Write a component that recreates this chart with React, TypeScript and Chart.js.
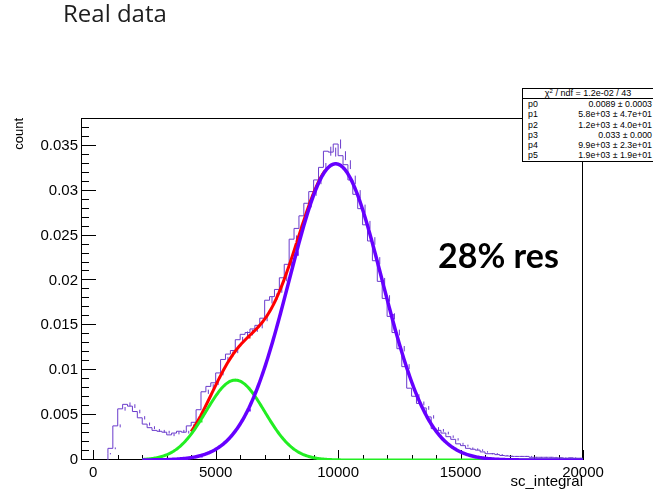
import { useEffect, useRef } from 'react';
import { Chart, registerables } from 'chart.js';

Chart.register(...registerables);

// Histogram of sc_integral: 100 bins of width 200 starting at 0 (normalised counts)
const BIN_START = 0;
const BIN_WIDTH = 200;
const COUNTS = [
  0, 0, 0, 0.0007, 0.0013, 0.0038, 0.0057, 0.0062, 0.006, 0.0054,
  0.0047, 0.004, 0.0036, 0.0033, 0.0032, 0.0031, 0.0028, 0.003, 0.0032, 0.0031,
  0.0038, 0.0042, 0.0056, 0.0076, 0.0082, 0.0086, 0.0097, 0.0112, 0.0118, 0.0122,
  0.0134, 0.014, 0.0142, 0.0146, 0.015, 0.0158, 0.0178, 0.0182, 0.019, 0.0203,
  0.0218, 0.0246, 0.0258, 0.0272, 0.0286, 0.0299, 0.0312, 0.0326, 0.0344, 0.0343,
  0.0352, 0.0339, 0.0329, 0.0312, 0.0296, 0.028, 0.0262, 0.0244, 0.0222, 0.0199,
  0.018, 0.016, 0.0142, 0.0124, 0.0104, 0.008, 0.0071, 0.0063, 0.0058, 0.0048,
  0.0035, 0.0033, 0.003, 0.0026, 0.0023, 0.0018, 0.0016, 0.0013, 0.0012, 0.0011,
  0.0009, 0.0007, 0.0007, 0.0006, 0.0005, 0.00045, 0.0004, 0.0004, 0.0004, 0.0004,
  0.0003, 0.0003, 0.0003, 0.0003, 0.0003, 0.00025, 0.00025, 0.0002, 0.00025, 0.0002,
];
// statistical error per bin ~ ERR_SCALE * sqrt(count)
const ERR_SCALE = 0.0027;

// Double-gaussian fit: p0..p2 first peak, p3..p5 main peak
const PARAM_NAMES = ['p0', 'p1', 'p2', 'p3', 'p4', 'p5'];
const PARAM_VALUES = [0.0089, 5800, 1200, 0.033, 9900, 1900];
const PARAM_TEXT = [
  '0.0089 ± 0.0003',
  '5.8e+03 ± 4.7e+01',
  '1.2e+03 ± 4.0e+01',
  '0.033 ± 0.000',
  '9.9e+03 ± 2.3e+01',
  '1.9e+03 ± 1.9e+01',
];
const CHI2_NDF = '1.2e-02 / 43';
const SUM_RANGE = [4000, 9500];
const PEAK_RANGE = [2000, 20000];

const X_RANGE = [-500, 20000];
const Y_RANGE = [0, 0.0381];
const X_TICKS = [0, 5000, 10000, 15000, 20000];
const Y_TICKS = [0, 0.005, 0.01, 0.015, 0.02, 0.025, 0.03, 0.035];

const HIST_COLOR = '#6a3bcc';
const SUM_COLOR = '#ff0000';
const PEAK1_COLOR = '#22ee22';
const PEAK2_COLOR = '#6600ff';

const gaus = (x: number, a: number, m: number, s: number) =>
  a * Math.exp(-0.5 * ((x - m) / s) ** 2);

function sample(range: number[], f: (x: number) => number) {
  const pts: { x: number; y: number }[] = [];
  for (let x = range[0]; x <= range[1]; x += 40) pts.push({ x, y: f(x) });
  return pts;
}

// ROOT-style frame with tick marks drawn inward
const frameTicks = {
  id: 'frameTicks',
  beforeDatasetsDraw(chart: any) {
    const { ctx, chartArea: a, scales } = chart;
    const xs = scales.x;
    const ys = scales.y;
    ctx.save();
    ctx.strokeStyle = '#000';
    ctx.lineWidth = 1;
    ctx.strokeRect(a.left + 0.5, a.top + 0.5, a.right - a.left - 1, a.bottom - a.top - 1);
    ctx.beginPath();
    for (let i = 0; i <= 20; i++) {
      const v = i * 1000;
      const px = Math.round(xs.getPixelForValue(v)) + 0.5;
      const len = i % 5 === 0 ? 10 : 5;
      ctx.moveTo(px, a.bottom);
      ctx.lineTo(px, a.bottom - len);
    }
    for (let i = 0; i <= 38; i++) {
      const v = i * 0.001;
      const py = Math.round(ys.getPixelForValue(v)) - 0.5;
      const len = i % 5 === 0 ? 15 : 8;
      ctx.moveTo(a.left, py);
      ctx.lineTo(a.left + len, py);
    }
    ctx.stroke();
    ctx.restore();
  },
};

export default function App() {
  const canvasRef = useRef<HTMLCanvasElement>(null);

  useEffect(() => {
    const canvas = canvasRef.current;
    if (!canvas) return;

    const firstBin = COUNTS.findIndex((c) => c > 0);
    const hist: { x: number; y: number }[] = [
      { x: BIN_START + firstBin * BIN_WIDTH, y: 0 },
    ];
    const errs: { x: number; y: number | null }[] = [];
    COUNTS.forEach((c, i) => {
      if (i < firstBin) return;
      const lo = BIN_START + i * BIN_WIDTH;
      hist.push({ x: lo, y: c });
      if (c > 0) {
        const e = ERR_SCALE * Math.sqrt(c);
        const mid = lo + BIN_WIDTH / 2;
        errs.push({ x: mid, y: c - e }, { x: mid, y: c + e }, { x: mid, y: null });
      }
    });
    hist.push({
      x: BIN_START + COUNTS.length * BIN_WIDTH,
      y: COUNTS[COUNTS.length - 1],
    });

    const [a1, m1, s1, a2, m2, s2] = PARAM_VALUES;
    const peak1 = (x: number) => gaus(x, a1, m1, s1);
    const peak2 = (x: number) => gaus(x, a2, m2, s2);

    const tickFont = { family: "'Liberation Sans', Arial, sans-serif", size: 15 };

    const chart = new Chart(canvas, {
      type: 'line',
      data: {
        datasets: [
          {
            data: hist,
            stepped: 'after',
            borderColor: HIST_COLOR,
            borderWidth: 1,
            pointRadius: 0,
            order: 5,
          },
          {
            data: errs as any,
            borderColor: HIST_COLOR,
            borderWidth: 1,
            pointRadius: 0,
            spanGaps: false,
            order: 4,
          },
          {
            data: sample(SUM_RANGE, (x) => peak1(x) + peak2(x)),
            borderColor: SUM_COLOR,
            borderWidth: 3,
            pointRadius: 0,
            order: 3,
          },
          {
            data: sample(PEAK_RANGE, peak1),
            borderColor: PEAK1_COLOR,
            borderWidth: 3,
            pointRadius: 0,
            order: 2,
          },
          {
            data: sample(PEAK_RANGE, peak2),
            borderColor: PEAK2_COLOR,
            borderWidth: 3.5,
            pointRadius: 0,
            order: 1,
          },
        ],
      },
      options: {
        responsive: false,
        animation: false,
        events: [],
        layout: { padding: { top: 118, right: 70, left: 0, bottom: 0 } },
        plugins: {
          legend: { display: false },
          tooltip: { enabled: false },
          title: { display: false },
        },
        scales: {
          x: {
            type: 'linear',
            min: X_RANGE[0],
            max: X_RANGE[1],
            afterBuildTicks: (s: any) => {
              s.ticks = X_TICKS.map((value) => ({ value }));
            },
            afterFit: (s: any) => {
              s.height = 35;
            },
            grid: { display: false, drawTicks: false },
            border: { display: false },
            ticks: {
              padding: 4,
              color: '#000',
              font: tickFont,
              maxRotation: 0,
              autoSkip: false,
              callback: (v: any) => String(v),
            },
            title: {
              display: true,
              text: 'sc_integral',
              align: 'end',
              color: '#000',
              font: { family: "'Liberation Sans', Arial, sans-serif", size: 15 },
              padding: { top: 0, bottom: 4 },
            },
          },
          y: {
            type: 'linear',
            min: Y_RANGE[0],
            max: Y_RANGE[1],
            afterBuildTicks: (s: any) => {
              s.ticks = Y_TICKS.map((value) => ({ value }));
            },
            afterFit: (s: any) => {
              s.width = 81;
            },
            grid: { display: false, drawTicks: false },
            border: { display: false },
            ticks: {
              padding: 3,
              color: '#000',
              font: tickFont,
              autoSkip: false,
              callback: (v: any) => String(parseFloat(Number(v).toFixed(3))),
            },
            title: {
              display: true,
              text: 'count',
              align: 'end',
              color: '#000',
              font: { family: "'Liberation Sans', Arial, sans-serif", size: 13 },
              padding: { top: 12, bottom: 0 },
            },
          },
        },
      },
      plugins: [frameTicks],
    });

    return () => chart.destroy();
  }, []);

  return (
    <div
      style={{
        position: 'fixed',
        left: 0,
        top: 0,
        width: 653,
        height: 495,
        overflow: 'hidden',
        background: '#fff',
      }}
    >
      <canvas
        ref={canvasRef}
        width={653}
        height={495}
        style={{ position: 'absolute', left: 0, top: 0, width: 653, height: 495 }}
      />
      <div
        style={{
          position: 'absolute',
          left: 63,
          top: 1,
          fontFamily: "'Open Sans', sans-serif",
          fontSize: 24,
          lineHeight: '24px',
          color: '#1e1e1e',
          whiteSpace: 'nowrap',
        }}
      >
        Real data
      </div>
      <div
        style={{
          position: 'absolute',
          left: 438,
          top: 238,
          fontFamily: "Lato, 'Open Sans', sans-serif",
          fontWeight: 700,
          fontSize: 34,
          lineHeight: '34px',
          color: '#000',
          whiteSpace: 'nowrap',
        }}
      >
        28% res
      </div>
      <div
        style={{
          position: 'absolute',
          left: 522,
          top: 88,
          width: 132,
          boxSizing: 'border-box',
          border: '1px solid #000',
          background: '#fff',
          fontFamily: "'Liberation Sans', Arial, sans-serif",
          fontSize: 8.8,
          color: '#000',
        }}
      >
        <div
          style={{
            height: 9,
            lineHeight: '9px',
            fontSize: 9,
            textAlign: 'center',
            borderBottom: '1px solid #000',
            whiteSpace: 'nowrap',
          }}
        >
          χ<sup style={{ fontSize: 6, lineHeight: 0, verticalAlign: 3 }}>2</sup> / ndf = {CHI2_NDF}
        </div>
        {PARAM_NAMES.map((name, i) => (
          <div
            key={name}
            style={{
              height: 10.3,
              lineHeight: '10.3px',
              display: 'flex',
              justifyContent: 'space-between',
              paddingLeft: 5,
              paddingRight: 1,
              whiteSpace: 'nowrap',
            }}
          >
            <span>{name}</span>
            <span>{PARAM_TEXT[i]}</span>
          </div>
        ))}
      </div>
    </div>
  );
}
